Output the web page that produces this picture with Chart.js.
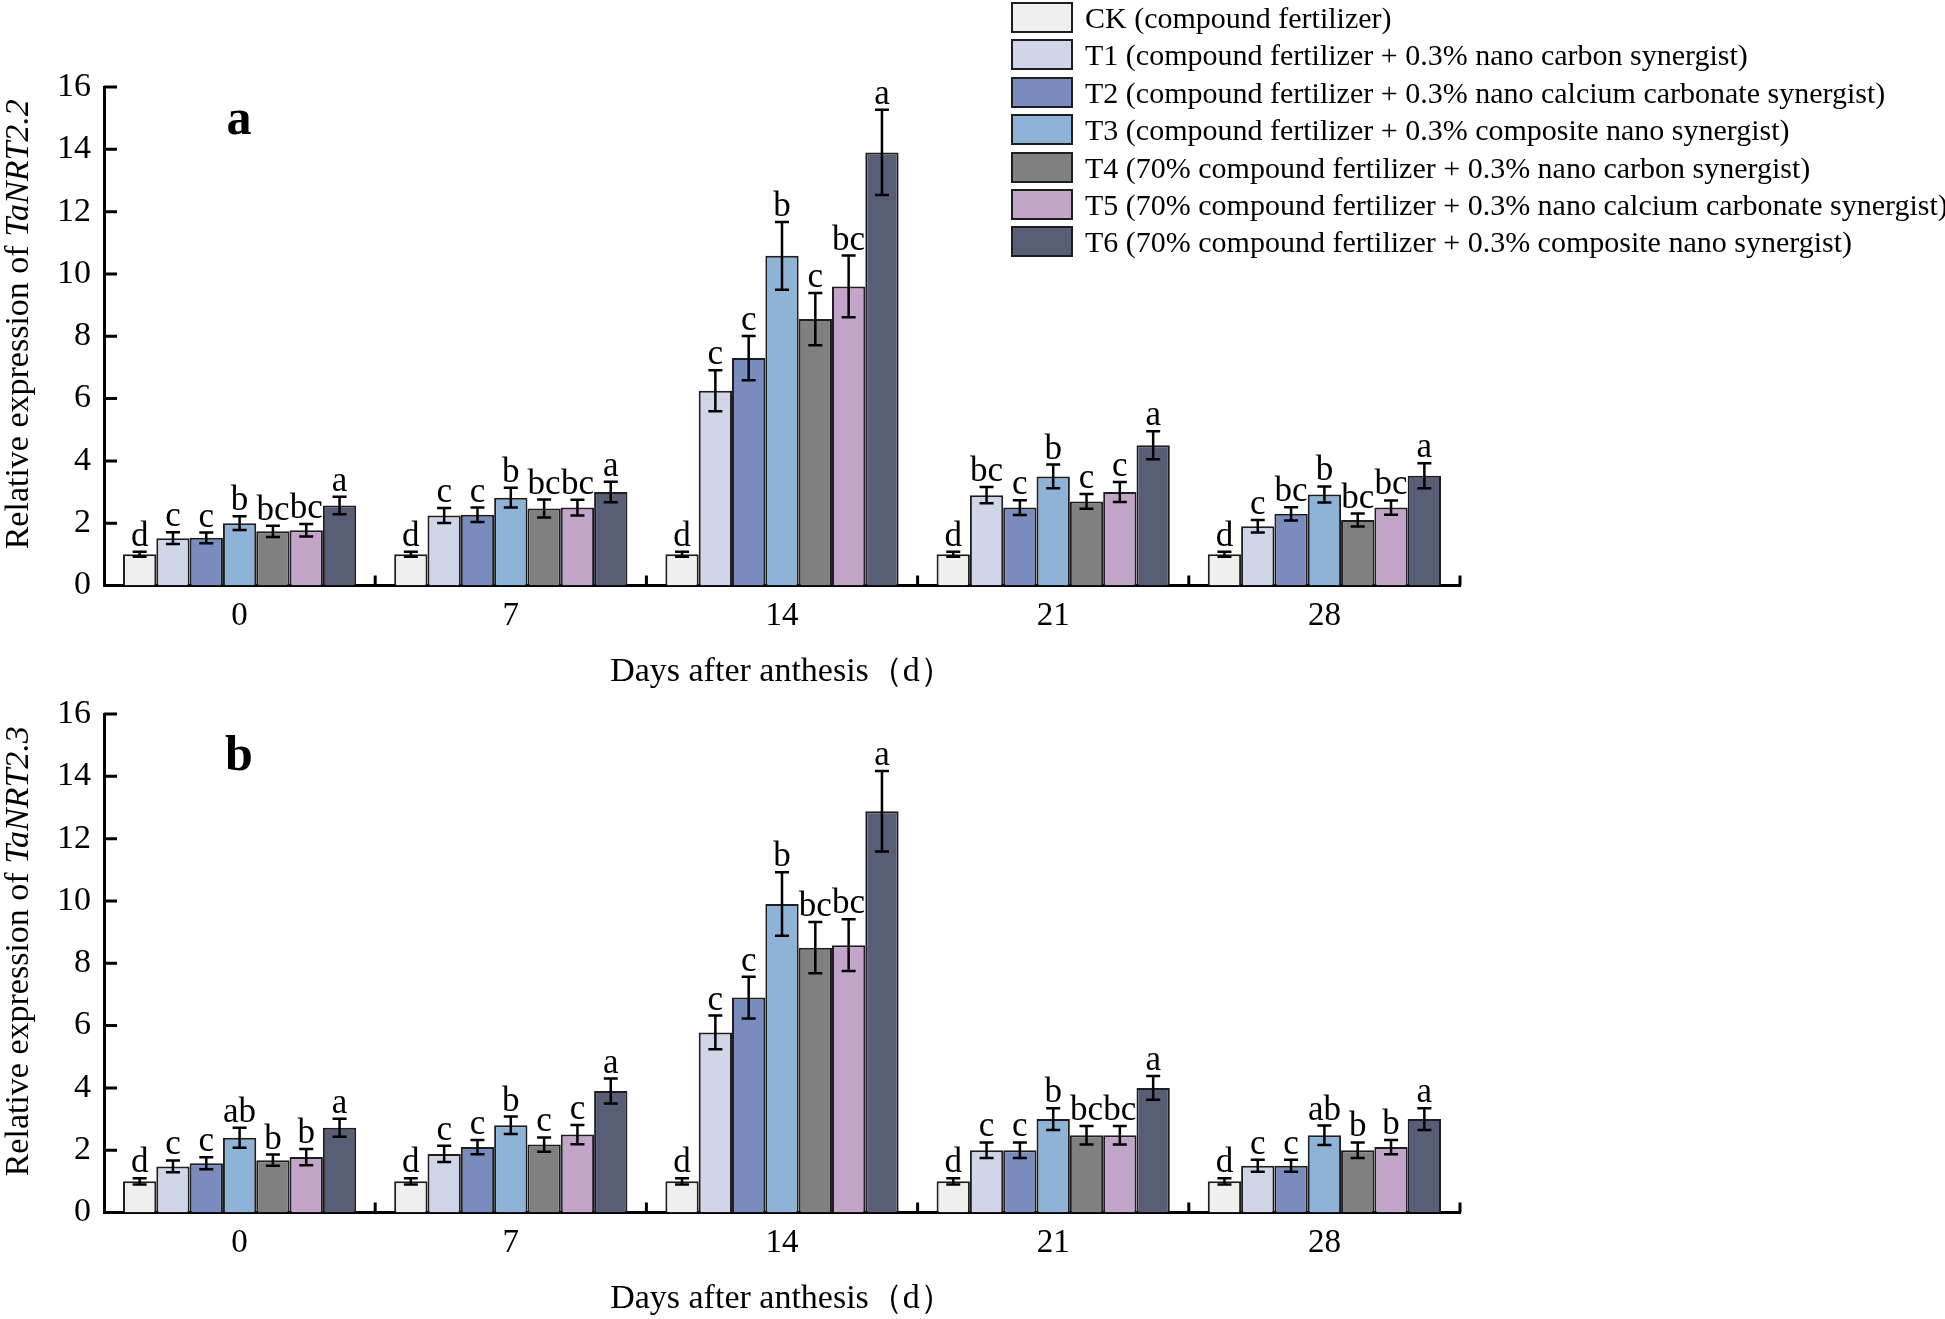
<!DOCTYPE html>
<html>
<head>
<meta charset="utf-8">
<script src="https://cdn.jsdelivr.net/npm/chart.js@4.4.0/dist/chart.umd.min.js"></script>
<style>
  html, body { margin: 0; padding: 0; background: #fff; width: 1945px; height: 1319px; overflow: hidden; }
  .panel { position: absolute; left: 0; width: 1945px; height: 700px; }
  #panelA { top: 0; }
  #panelB { top: 627px; }
  #legend { position: absolute; left: 1011px; top: 2px; z-index: 5;
    font-family: 'Liberation Serif', 'Times New Roman', serif; font-size: 30px; color: #000; }
  .row { position: absolute; left: 0; height: 31px; white-space: nowrap; }
  .box { position: absolute; left: 0; top: 0; width: 58px; height: 27px; border: 2px solid #1e1e1e; }
  .lab { position: absolute; left: 74px; top: -2px; line-height: 35px; }
</style>
</head>
<body>
<div id="legend"></div>
<div class="panel" id="panelA"><canvas id="chartA" width="1945" height="700"></canvas></div>
<div class="panel" id="panelB"><canvas id="chartB" width="1945" height="700"></canvas></div>
<script>
const days = ['0', '7', '14', '21', '28'];

const treatments = [
  'CK (compound fertilizer)',
  'T1 (compound fertilizer + 0.3% nano carbon synergist)',
  'T2 (compound fertilizer + 0.3% nano calcium carbonate synergist)',
  'T3 (compound fertilizer + 0.3% composite nano synergist)',
  'T4 (70% compound fertilizer + 0.3% nano carbon synergist)',
  'T5 (70% compound fertilizer + 0.3% nano calcium carbonate synergist)',
  'T6 (70% compound fertilizer + 0.3% composite nano synergist)',
];

const fillColors = ['#efefef', '#d0d6e8', '#7a8bbd', '#8fb2d7', '#808080', '#c2a5c9', '#585e75'];

// panel a: TaNRT2.2, one row per treatment, one value per day
const meansA = [
  [1.0, 1.0, 1.0, 1.0, 1.0],
  [1.52, 2.25, 6.25, 2.9, 1.9],
  [1.53, 2.27, 7.3, 2.5, 2.3],
  [2.0, 2.82, 10.58, 3.5, 2.92],
  [1.74, 2.47, 8.55, 2.7, 2.1],
  [1.77, 2.5, 9.6, 3.0, 2.5],
  [2.57, 3.0, 13.9, 4.5, 3.52],
];
const errorsA = [
  [0.08, 0.08, 0.08, 0.08, 0.08],
  [0.19, 0.24, 0.66, 0.26, 0.2],
  [0.17, 0.23, 0.71, 0.24, 0.21],
  [0.22, 0.32, 1.09, 0.38, 0.26],
  [0.18, 0.29, 0.84, 0.24, 0.21],
  [0.2, 0.25, 0.99, 0.32, 0.23],
  [0.28, 0.33, 1.37, 0.45, 0.4],
];
const lettersA = [
  ['d', 'd', 'd', 'd', 'd'],
  ['c', 'c', 'c', 'bc', 'c'],
  ['c', 'c', 'c', 'c', 'bc'],
  ['b', 'b', 'b', 'b', 'b'],
  ['bc', 'bc', 'c', 'c', 'bc'],
  ['bc', 'bc', 'bc', 'c', 'bc'],
  ['a', 'a', 'a', 'a', 'a'],
];

// panel b: TaNRT2.3
const meansB = [
  [1.0, 1.0, 1.0, 1.0, 1.0],
  [1.48, 1.88, 5.78, 2.0, 1.5],
  [1.58, 2.1, 6.9, 2.0, 1.5],
  [2.4, 2.8, 9.9, 3.0, 2.48],
  [1.68, 2.18, 8.5, 2.48, 2.0],
  [1.78, 2.5, 8.58, 2.48, 2.1],
  [2.72, 3.9, 12.88, 4.0, 3.0],
];
const errorsB = [
  [0.1, 0.1, 0.1, 0.1, 0.1],
  [0.19, 0.26, 0.54, 0.25, 0.19],
  [0.19, 0.23, 0.67, 0.25, 0.19],
  [0.32, 0.28, 1.02, 0.35, 0.31],
  [0.18, 0.23, 0.82, 0.3, 0.25],
  [0.26, 0.31, 0.83, 0.3, 0.23],
  [0.29, 0.4, 1.29, 0.38, 0.35],
];
const lettersB = [
  ['d', 'd', 'd', 'd', 'd'],
  ['c', 'c', 'c', 'c', 'c'],
  ['c', 'c', 'c', 'c', 'c'],
  ['ab', 'b', 'b', 'b', 'ab'],
  ['b', 'c', 'bc', 'bc', 'b'],
  ['b', 'c', 'bc', 'bc', 'b'],
  ['a', 'a', 'a', 'a', 'a'],
];

const serif = "'Liberation Serif', 'Times New Roman', serif";

// legend (shared, top right)
const legendEl = document.getElementById('legend');
treatments.forEach((name, i) => {
  const row = document.createElement('div');
  row.className = 'row';
  row.style.top = (i * 37.4) + 'px';
  row.innerHTML = '<div class="box" style="background:' + fillColors[i] + '"></div><div class="lab"></div>';
  row.querySelector('.lab').textContent = name;
  legendEl.appendChild(row);
});

// error bars, significance letters, inward ticks, y title and panel letter
const decor = {
  id: 'decor',
  afterDatasetsDraw(chart, args, opts) {
    const ctx = chart.ctx;
    const y = chart.scales.y;
    ctx.save();
    ctx.strokeStyle = '#000';
    ctx.fillStyle = '#000';
    ctx.lineWidth = 2.5;
    ctx.font = '35px ' + serif;
    ctx.textAlign = 'center';
    ctx.textBaseline = 'alphabetic';
    chart.data.datasets.forEach((ds, i) => {
      const meta = chart.getDatasetMeta(i);
      meta.data.forEach((bar, j) => {
        const v = ds.data[j];
        const e = opts.errors[i][j];
        const top = y.getPixelForValue(v + e);
        const bot = y.getPixelForValue(v - e);
        ctx.beginPath();
        ctx.moveTo(bar.x, top);
        ctx.lineTo(bar.x, bot);
        ctx.moveTo(bar.x - 7, top);
        ctx.lineTo(bar.x + 7, top);
        ctx.moveTo(bar.x - 7, bot);
        ctx.lineTo(bar.x + 7, bot);
        ctx.stroke();
        ctx.fillText(opts.letters[i][j], bar.x, top - 6);
      });
    });
    ctx.restore();
  },
  afterDraw(chart, args, opts) {
    const ctx = chart.ctx;
    const area = chart.chartArea;
    const x = chart.scales.x;
    const y = chart.scales.y;
    ctx.save();
    ctx.strokeStyle = '#000';
    ctx.lineWidth = 3;
    ctx.beginPath();
    y.ticks.forEach((t) => {
      const py = y.getPixelForValue(t.value);
      ctx.moveTo(area.left, py);
      ctx.lineTo(area.left + 13, py);
    });
    for (let i = 1; i <= days.length; i++) {
      const px = i < days.length
        ? (x.getPixelForValue(i - 1) + x.getPixelForValue(i)) / 2
        : area.right;
      ctx.moveTo(px, area.bottom);
      ctx.lineTo(px, area.bottom - 10);
    }
    ctx.stroke();

    // y axis title with italic gene name
    ctx.fillStyle = '#000';
    ctx.translate(19, (area.top + area.bottom) / 2 - 12);
    ctx.rotate(-Math.PI / 2);
    ctx.textBaseline = 'middle';
    ctx.textAlign = 'left';
    const part1 = 'Relative expression of ';
    ctx.font = '34px ' + serif;
    const w1 = ctx.measureText(part1).width;
    ctx.font = 'italic 34px ' + serif;
    const w2 = ctx.measureText(opts.gene).width;
    const start = -(w1 + w2) / 2;
    ctx.font = '34px ' + serif;
    ctx.fillText(part1, start, 0);
    ctx.font = 'italic 34px ' + serif;
    ctx.fillText(opts.gene, start + w1, 0);
    ctx.restore();

    ctx.save();
    ctx.fillStyle = '#000';
    ctx.font = 'bold 50px ' + serif;
    ctx.textAlign = 'center';
    ctx.textBaseline = 'alphabetic';
    ctx.fillText(opts.panel, 239, opts.panelBase);
    ctx.restore();
  },
};

function makeChart(id, means, errors, letters, gene, panel, panelBase) {
  const datasets = treatments.map((name, i) => ({
    label: name,
    data: means[i],
    backgroundColor: fillColors[i],
    borderColor: '#1e1e1e',
    borderWidth: 2,
    borderSkipped: 'bottom',
    categoryPercentage: 0.86,
    barPercentage: 1.0,
  }));

  return new Chart(document.getElementById(id), {
    type: 'bar',
    data: { labels: days, datasets },
    plugins: [decor],
    options: {
      responsive: false,
      animation: false,
      devicePixelRatio: 1,
      layout: { padding: { top: 87, left: 0, right: 485, bottom: 0 } },
      plugins: {
        legend: { display: false },
        tooltip: { enabled: false },
        decor: { errors, letters, gene, panel, panelBase },
      },
      scales: {
        x: {
          grid: { display: false, drawTicks: false },
          border: { display: true, color: '#000', width: 3 },
          ticks: { color: '#000', padding: 11, font: { family: serif, size: 33 } },
          title: {
            display: true,
            text: 'Days after anthesis（d）',
            color: '#000',
            font: { family: serif, size: 34 },
            padding: { top: 0, bottom: 8 },
          },
          afterFit: (s) => { s.height = 114.5; },
        },
        y: {
          min: 0,
          max: 16,
          grid: { display: false, drawTicks: false },
          border: { display: true, color: '#000', width: 3 },
          ticks: { stepSize: 2, color: '#000', padding: 13, font: { family: serif, size: 34 } },
          afterFit: (s) => { s.width = 104; },
        },
      },
    },
  });
}

makeChart('chartA', meansA, errorsA, lettersA, 'TaNRT2.2', 'a', 134);
makeChart('chartB', meansB, errorsB, lettersB, 'TaNRT2.3', 'b', 143);
</script>
</body>
</html>
